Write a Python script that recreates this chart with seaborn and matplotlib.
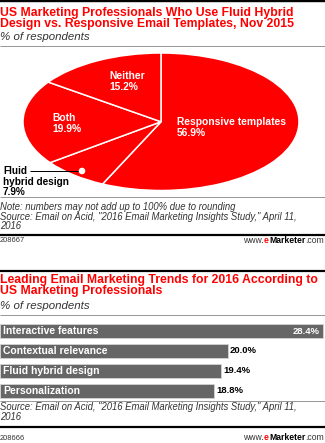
import matplotlib
matplotlib.use("Agg")
import matplotlib.pyplot as plt
from matplotlib.lines import Line2D
from matplotlib.patches import Ellipse
import seaborn as sns

# ---------------- data ----------------
pie_labels = ["Responsive templates", "Fluid\nhybrid design", "Both", "Neither"]
pie_values = [56.9, 7.9, 19.9, 15.2]

trend_categories = ["Interactive features", "Contextual relevance",
                    "Fluid hybrid design", "Personalization"]
trend_values = [28.4, 20.0, 19.4, 18.8]

title1 = ["US Marketing Professionals Who Use Fluid Hybrid",
          "Design vs. Responsive Email Templates, Nov 2015"]
title2 = ["Leading Email Marketing Trends for 2016 According to",
          "US Marketing Professionals"]
subtitle = "% of respondents"
note1 = "Note: numbers may not add up to 100% due to rounding"
source_lines = ["Source: Email on Acid, \"2016 Email Marketing Insights Study,\" April 11,",
                "2016"]
ids = ["208667", "208666"]

# ---------------- style ----------------
sns.set_style("white")
plt.rcParams["font.family"] = ["Liberation Sans", "DejaVu Sans"]

RED = "#ff0000"
BAR = "#666666"
W, H = 325, 443
fig = plt.figure(figsize=(W / 100, H / 100), dpi=100)


def fx(x):
    return x / W


def fy(y):
    return 1 - y / H


groups = {}


def put(s, x, y, group, size=8, ha="left", va="baseline", **kw):
    t = fig.text(fx(x), fy(y), s, ha=ha, va=va, fontsize=size, **kw)
    groups.setdefault(group, []).append(t)
    return t


def hline(y, color, px, x0=0, x1=W):
    fig.add_artist(Line2D([fx(x0), fx(x1)], [fy(y), fy(y)], transform=fig.transFigure,
                          color=color, lw=px * 0.72, solid_capstyle="butt"))


# ---------------- chart 1 ----------------
hline(1.2, "black", 2.4)
put(title1[0], 0, 16.3, "title", color=RED, fontweight="bold")
put(title1[1], 0, 27.3, "title", color=RED, fontweight="bold")
put(subtitle, 0, 39.5, "sub", color="#333333", style="italic")
hline(46, "#999999", 1)

axp = fig.add_axes([fx(23), fy(190.5), (299 - 23) / W, (190.5 - 53) / H])
axp.pie(pie_values, colors=[RED] * len(pie_values), startangle=90, counterclock=False,
        wedgeprops=dict(edgecolor="white", linewidth=1.1))
axp.set_aspect("auto")
axp.set_xlim(-1, 1)
axp.set_ylim(-1, 1)
axp.axis("off")

# pie labels
put("Responsive templates", 176.7, 125.3, "pie", color="white", fontweight="bold")
put(f"{pie_values[0]:.1f}%", 176.7, 135.8, "pie", color="white", fontweight="bold")
put("Neither", 109, 79.3, "pie", color="white", fontweight="bold")
put(f"{pie_values[3]:.1f}%", 109, 89.8, "pie", color="white", fontweight="bold")
put("Both", 52, 121.3, "pie", color="white", fontweight="bold")
put(f"{pie_values[2]:.1f}%", 52, 131.8, "pie", color="white", fontweight="bold")
put("Fluid", 3, 174.3, "fluid", color="black", fontweight="bold")
put("hybrid design", 3, 184.6, "fluid", color="black", fontweight="bold")
put(f"{pie_values[1]:.1f}%", 3, 195, "fluid", color="black", fontweight="bold")
hline(171, "black", 1, 30, 81)
fig.add_artist(Ellipse((fx(82), fy(171)), 5.2 / W, 5.2 / H, transform=fig.transFigure,
                       color="white", zorder=5))

hline(197.5, "#999999", 1)
put(note1, 0, 210, "note", color="#333333", style="italic")
put(source_lines[0], 0, 219.5, "note", color="#333333", style="italic")
put(source_lines[1], 0, 229.3, "note", color="#333333", style="italic")
hline(235, "black", 2.2)
put(ids[0], 0, 242.5, "id", color="#333333")

# ---------------- chart 2 ----------------
hline(270.5, "black", 2.2)
put(title2[0], 0, 282.5, "title", color=RED, fontweight="bold")
put(title2[1], 0, 294.3, "title", color=RED, fontweight="bold")
put(subtitle, 0, 309, "sub", color="#333333", style="italic")
hline(314.5, "#999999", 1)

axb = fig.add_axes([0, fy(400.6), 1, (400.6 - 321.2) / H])
sns.barplot(x=trend_values, y=trend_categories, orient="h", color=BAR, saturation=1,
            width=0.72, ax=axb, edgecolor="#d4d4d4", linewidth=0.6)
axb.set_xlim(0, 28.4 * W / 323.5)
axb.set_ylim(3.5, -0.5)
axb.axis("off")

bar_cat_texts = []
val_texts = []
vmax = max(trend_values)
for i, (c, v) in enumerate(zip(trend_categories, trend_values)):
    t = axb.annotate(c, xy=(0, i), xytext=(3, 0), textcoords="offset pixels",
                     va="center", ha="left", color="white", fontweight="bold", fontsize=8)
    bar_cat_texts.append(t)
    if v == vmax:
        t2 = axb.annotate(f"{v:.1f}%", xy=(v, i), xytext=(-4, 0), textcoords="offset pixels",
                          va="center", ha="right", color="white", fontweight="bold", fontsize=8)
    else:
        t2 = axb.annotate(f"{v:.1f}%", xy=(v, i), xytext=(2, 0), textcoords="offset pixels",
                          va="center", ha="left", color="black", fontweight="bold", fontsize=8)
    val_texts.append(t2)
groups["barcat"] = bar_cat_texts
groups["val"] = val_texts

hline(400.5, "#999999", 1)
put(source_lines[0], 0, 410, "note", color="#333333", style="italic")
put(source_lines[1], 0, 420, "note", color="#333333", style="italic")
hline(427, "black", 2.2)
put(ids[1], 0, 440, "id", color="#333333")

# ---------------- fit font sizes to reference widths ----------------
targets = {
    "title": (0, 296), "sub": (0, 90), "pie": (0, 109), "fluid": (1, 66),
    "note": (1, 302), "id": (0, 25), "barcat": (0, 96), "val": (1, 27),
}
renderer = fig.canvas.get_renderer()
for g, (idx, tw) in targets.items():
    ref = groups[g][idx]
    w = ref.get_window_extent(renderer).width
    scale = tw / w
    for t in groups[g]:
        t.set_fontsize(t.get_fontsize() * scale)

# ---------------- www.eMarketer.com logos ----------------
def logo(ybase):
    parts = [("www.", "normal", "#333333"), ("e", "bold", RED),
             ("Marketer", "bold", "black"), (".com", "normal", "#333333")]
    ts = [fig.text(0, fy(ybase), p, fontweight=wt, color=col, fontsize=7, va="baseline")
          for p, wt, col in parts]
    tot = sum(t.get_window_extent(renderer).width for t in ts)
    for t in ts:
        t.set_fontsize(7 * 80 / tot)
    x = 324
    for t in reversed(ts):
        w = t.get_window_extent(renderer).width
        x -= w
        t.set_x(fx(x))


logo(243)
logo(440.5)

fig.savefig("out.png", dpi=100)
